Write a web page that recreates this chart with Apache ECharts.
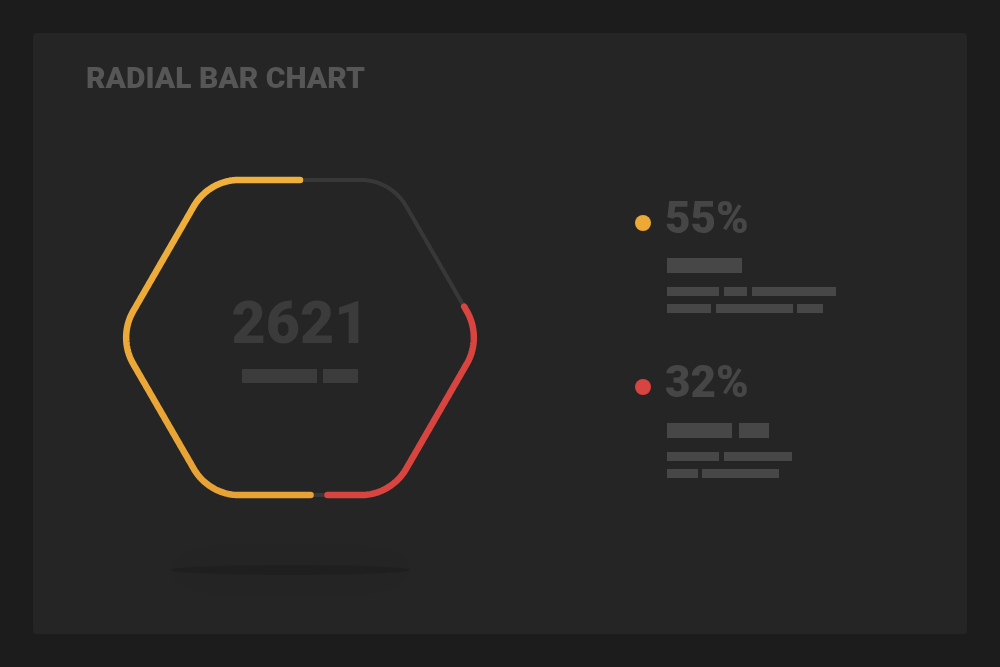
<!DOCTYPE html>
<html><head><meta charset="utf-8">
<script src="https://cdn.jsdelivr.net/npm/echarts@6/dist/echarts.min.js"></script>
<style>html,body{margin:0;padding:0;background:#1c1c1c;}#chart{width:1000px;height:667px;}</style>
</head><body><div id="chart"></div>
<script>
// ---- data ----
const titleText = 'RADIAL BAR CHART';
const totalValue = 2621;
const seriesNames = ['Series A', 'Series B'];
const percentValues = [55, 32];        // legend percentages
const arcShares = [51, 25.5];          // share of the hexagon track covered by each bar
const trackShare = 100;

// ---- style ----
const colors = ['#eca936', '#d8443f'];
const trackColor = '#383838';
const gapShare = 1.6;

function buildHex(cx, cy, R, rc) {
  const pieces = [];
  const d = rc / Math.sin(Math.PI / 3);
  const verts = [240, 180, 120, 60, 0, -60];
  let px = cx, py = cy - R * Math.sin(Math.PI / 3);
  for (const deg of verts) {
    const t = deg * Math.PI / 180;
    const vx = cx + R * Math.cos(t), vy = cy + R * Math.sin(t);
    const ox = vx - d * Math.cos(t), oy = vy - d * Math.sin(t);
    const a0 = t + Math.PI / 6, a1 = t - Math.PI / 6;
    const tx = ox + rc * Math.cos(a0), ty = oy + rc * Math.sin(a0);
    pieces.push({ line: true, x0: px, y0: py, x1: tx, y1: ty, len: Math.hypot(tx - px, ty - py) });
    pieces.push({ line: false, ox, oy, a0, a1, rr: rc, len: rc * Math.PI / 3 });
    px = ox + rc * Math.cos(a1); py = oy + rc * Math.sin(a1);
  }
  const ex = cx, ey = cy - R * Math.sin(Math.PI / 3);
  pieces.push({ line: true, x0: px, y0: py, x1: ex, y1: ey, len: Math.hypot(ex - px, ey - py) });
  const total = pieces.reduce((s, p) => s + p.len, 0);
  return { pieces, total };
}
function pointAt(hex, s) {
  for (const p of hex.pieces) {
    if (s <= p.len + 1e-9) {
      const f = p.len ? s / p.len : 0;
      if (p.line) return [p.x0 + (p.x1 - p.x0) * f, p.y0 + (p.y1 - p.y0) * f];
      const a = p.a0 + (p.a1 - p.a0) * f;
      return [p.ox + p.rr * Math.cos(a), p.oy + p.rr * Math.sin(a)];
    }
    s -= p.len;
  }
  const last = hex.pieces[hex.pieces.length - 1];
  return [last.x1, last.y1];
}

const barData = [
  { name: 'track', value: [0, trackShare], itemStyle: { color: trackColor }, lw: 4 },
  { name: seriesNames[0], value: [0, arcShares[0]], itemStyle: { color: colors[0] }, lw: 6.5 },
  { name: seriesNames[1], value: [arcShares[0] + gapShare, arcShares[0] + gapShare + arcShares[1]], itemStyle: { color: colors[1] }, lw: 6.5 }
];

function renderItem(params, api) {
  const cs = params.coordSys;
  const R = cs.r, rc = R * 0.29;
  const hex = buildHex(cs.cx, cs.cy, R, rc);
  const s0 = api.value(0) / 100 * hex.total;
  const s1 = api.value(1) / 100 * hex.total;
  const pts = [];
  for (let s = s0; s < s1; s += 1.5) pts.push(pointAt(hex, s));
  pts.push(pointAt(hex, s1 - 0.01));
  const item = barData[params.dataIndex];
  let stroke = item.itemStyle.color;
  if (params.dataIndex === 1) {
    stroke = new echarts.graphic.LinearGradient(0, cs.cy - R, 0, cs.cy + R, [
      { offset: 0, color: '#f0b23c' }, { offset: 1, color: '#e7a034' }
    ], true);
  }
  return {
    type: 'polyline',
    shape: { points: pts },
    style: { stroke: stroke, fill: null, lineWidth: item.lw, lineCap: 'round', lineJoin: 'round' }
  };
}

// legend + placeholder decorations
const legendY = [222, 386];
const graphics = [
  { type: 'rect', shape: { x: 33, y: 33, width: 934, height: 601, r: 3 }, style: { fill: '#252525' }, z: -10 },
  { type: 'ellipse', shape: { cx: 290, cy: 570, rx: 120, ry: 5 },
    style: { fill: 'rgba(0,0,0,0.12)', shadowBlur: 30, shadowColor: 'rgba(0,0,0,0.55)' }, z: -5 },
  { type: 'text', x: 300, y: 328, style: { text: String(totalValue), align: 'center', verticalAlign: 'middle',
      fill: '#3b3b3b', font: '900 59px Roboto' } },
  { type: 'rect', shape: { x: 242, y: 369, width: 75, height: 14 }, style: { fill: '#3c3c3c' } },
  { type: 'rect', shape: { x: 323, y: 369, width: 35, height: 14 }, style: { fill: '#3c3c3c' } }
];
percentValues.forEach((v, i) => {
  const y = legendY[i];
  graphics.push({ type: 'circle', shape: { cx: 643, cy: legendY[i] + 1, r: 8 }, style: { fill: colors[i] } });
  graphics.push({ type: 'text', x: 665, y: y, style: { text: v + '%', verticalAlign: 'middle', fill: '#464646', font: '900 44px Roboto' } });
});
const placeholder = [
  [667, 258, 75, 15], [667, 287, 52, 9], [724, 287, 23, 9], [752, 287, 84, 9],
  [667, 304, 44, 9], [716, 304, 77, 9], [797, 304, 26, 9],
  [667, 423, 65, 15], [739, 423, 30, 15], [667, 452, 52, 9], [724, 452, 68, 9],
  [667, 469, 31, 9], [702, 469, 77, 9]
];
placeholder.forEach(b => graphics.push({ type: 'rect', shape: { x: b[0], y: b[1], width: b[2], height: b[3] }, style: { fill: '#474747' } }));

const chart = echarts.init(document.getElementById('chart'));
chart.setOption({
  backgroundColor: '#1c1c1c',
  animation: false,
  title: { text: titleText, left: 81, top: 60, textStyle: { color: '#565656', fontSize: 30, fontWeight: 900, fontFamily: 'Roboto' } },
  polar: { center: [300, 337.5], radius: 182 },
  angleAxis: { type: 'value', min: 0, max: 100, show: false, startAngle: 90 },
  radiusAxis: { type: 'value', show: false },
  series: [{
    type: 'custom', coordinateSystem: 'polar', renderItem: renderItem,
    data: barData.map(d => ({ name: d.name, value: d.value, itemStyle: d.itemStyle }))
  }],
  graphic: graphics
});
</script></body></html>
